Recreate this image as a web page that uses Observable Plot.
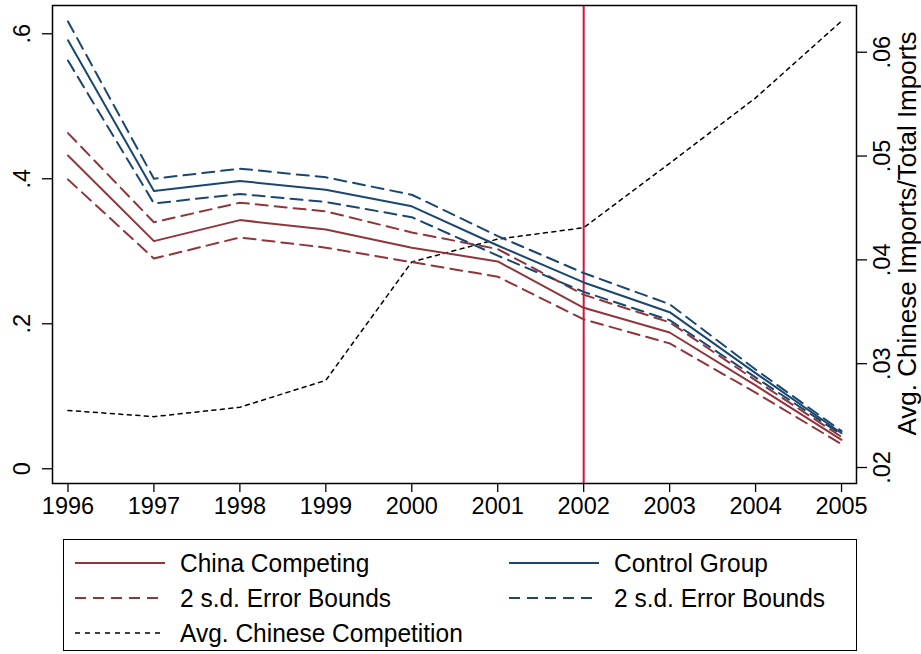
<!DOCTYPE html>
<html>
<head>
<meta charset="utf-8">
<script src="https://cdn.jsdelivr.net/npm/d3@7"></script>
<script src="https://cdn.jsdelivr.net/npm/@observablehq/plot@0.6"></script>
<style>
  html, body { margin: 0; padding: 0; background: #fff; }
  body { width: 921px; height: 654px; overflow: hidden; font-family: "Liberation Sans", Arial, Helvetica, sans-serif; }
  #legend { position: relative; margin-left: 63px; margin-top: 9px; width: 794px; height: 112px; border: 1.3px solid #000; box-sizing: border-box; }
  .item { position: absolute; height: 30px; display: flex; align-items: center; font-size: 24.5px; color: #000; white-space: nowrap; }
  .item span { display: inline-block; transform: scaleY(1.08); }
  .item svg { margin-right: 14px; }
</style>
</head>
<body>
<div id="chart"></div>
<div id="legend"></div>
<script>
const years = [1996, 1997, 1998, 1999, 2000, 2001, 2002, 2003, 2004, 2005];
const chinaCompeting = [0.432, 0.314, 0.343, 0.330, 0.305, 0.286, 0.222, 0.188, 0.115, 0.040];
const chinaUpper     = [0.463, 0.340, 0.367, 0.355, 0.326, 0.303, 0.240, 0.202, 0.122, 0.044];
const chinaLower     = [0.399, 0.290, 0.319, 0.305, 0.285, 0.265, 0.206, 0.173, 0.105, 0.034];
const controlGroup   = [0.591, 0.383, 0.397, 0.385, 0.362, 0.308, 0.257, 0.216, 0.132, 0.049];
const controlUpper   = [0.617, 0.400, 0.414, 0.402, 0.378, 0.321, 0.270, 0.227, 0.137, 0.052];
const controlLower   = [0.563, 0.366, 0.379, 0.368, 0.347, 0.294, 0.244, 0.205, 0.126, 0.047];
const avgCompetition = [0.0255, 0.0249, 0.0258, 0.0284, 0.0398, 0.0420, 0.0431, 0.0493, 0.0556, 0.0630];
const treatmentYear = 2002;

const leftTicks = [0, 0.2, 0.4, 0.6];
const rightTicks = [0.02, 0.03, 0.04, 0.05, 0.06];
const leftDomain = [-0.0203, 0.639];
const rightDomain = [0.01846, 0.0645];

const legendLabels = ["China Competing", "Control Group", "2 s.d. Error Bounds", "2 s.d. Error Bounds", "Avg. Chinese Competition"];

const RED = "#90353b", BLUE = "#1a476f", VLINE = "#d3143d";
const fmt = d => d === 0 ? "0" : String(+d.toFixed(3)).replace(/^0\./, ".");
const toLeft = d3.scaleLinear().domain(rightDomain).range(leftDomain);

const series = (vals, stroke, dash, width = 2) =>
  Plot.line(years, {x: d => d, y: (d, i) => vals[i], stroke, strokeWidth: width, strokeDasharray: dash});

const chart = Plot.plot({
  width: 921, height: 530,
  marginLeft: 52, marginRight: 65, marginTop: 5, marginBottom: 47,
  style: {fontFamily: "'Liberation Sans', Arial, Helvetica, sans-serif", fontSize: "23px", color: "#000", background: "#fff"},
  x: {domain: [1995.82, 2005.174], axis: null},
  y: {domain: leftDomain, axis: null},
  marks: [
    Plot.ruleX([treatmentYear], {stroke: VLINE, strokeWidth: 2}),
    Plot.line(years, {x: d => d, y: (d, i) => toLeft(avgCompetition[i]), stroke: "#000", strokeWidth: 1.5, strokeDasharray: "4,4.5"}),
    series(chinaUpper, RED, "12,7"),
    series(chinaLower, RED, "12,7"),
    series(controlUpper, BLUE, "12,7"),
    series(controlLower, BLUE, "12,7"),
    series(chinaCompeting, RED, null),
    series(controlGroup, BLUE, null),
    Plot.frame({stroke: "#000", strokeWidth: 1.5}),
    Plot.axisX(years, {anchor: "bottom", tickSize: 9, tickPadding: 5, tickFormat: d => String(d), fontSize: 23.5, label: null, stroke: "#000", strokeWidth: 1.3}),
    Plot.axisY(leftTicks, {anchor: "left", tickSize: 10, tickFormat: () => "", label: null, strokeWidth: 1.3}),
    Plot.text(leftTicks, {y: d => d, frameAnchor: "left", dx: -30, rotate: -90, text: fmt, fontSize: 23.5, textAnchor: "middle"}),
    Plot.axisY(rightTicks.map(d => toLeft(d)), {anchor: "right", tickSize: 10, tickFormat: () => "", label: null, strokeWidth: 1.3}),
    Plot.text(rightTicks, {y: d => toLeft(d), frameAnchor: "right", dx: 26, rotate: -90, text: fmt, fontSize: 23.5, textAnchor: "middle"}),
    Plot.text(["Avg. Chinese Imports/Total Imports"], {frameAnchor: "right", dx: 51, dy: -11, rotate: -90, text: d => d, fontSize: 26, textAnchor: "middle"})
  ]
});
document.getElementById("chart").appendChild(chart);

// Legend
const legendItems = [
  {label: legendLabels[0], color: RED, dash: null, w: 2, left: 10, top: 8},
  {label: legendLabels[1], color: BLUE, dash: null, w: 2, left: 444, top: 8},
  {label: legendLabels[2], color: RED, dash: "11,7", w: 2, left: 10, top: 43},
  {label: legendLabels[3], color: BLUE, dash: "11,7", w: 2, left: 444, top: 43},
  {label: legendLabels[4], color: "#000", dash: "5,5", w: 1.5, left: 10, top: 78}
];
const legend = document.getElementById("legend");
for (const it of legendItems) {
  const div = document.createElement("div");
  div.className = "item";
  div.style.left = it.left + "px";
  div.style.top = it.top + "px";
  div.innerHTML = `<svg width="92" height="10"><line x1="1" y1="5" x2="91" y2="5" stroke="${it.color}" stroke-width="${it.w}" ${it.dash ? `stroke-dasharray="${it.dash}"` : ""}/></svg><span>${it.label}</span>`;
  legend.appendChild(div);
}
</script>
</body>
</html>
